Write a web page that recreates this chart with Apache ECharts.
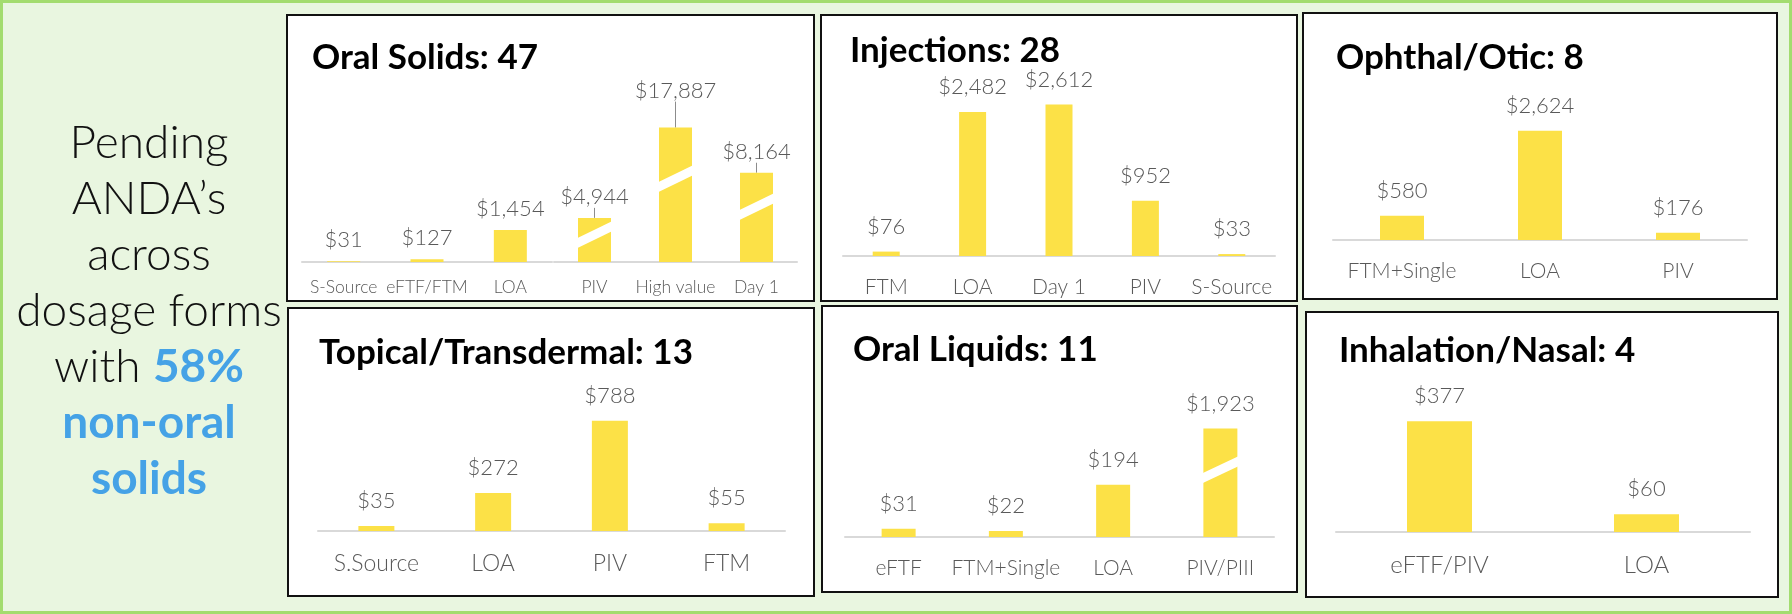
<!DOCTYPE html>
<html>
<head>
<meta charset="utf-8">
<script src="https://cdn.jsdelivr.net/npm/echarts@6.0.0/dist/echarts.min.js"></script>
<style>
html, body { margin: 0; padding: 0; }
#chart { width: 1792px; height: 614px; }
</style>
</head>
<body>
<div id="chart"></div>
<script>
// values in $
var osLowCats = ['S-Source', 'eFTF/FTM', 'LOA'];
var osLowVals = [31, 127, 1454];
var osHighCats = ['PIV', 'High value', 'Day 1'];
var osHighVals = [4944, 17887, 8164];
var injCats = ['FTM', 'LOA', 'Day 1', 'PIV', 'S-Source'];
var injVals = [76, 2482, 2612, 952, 33];
var ophCats = ['FTM+Single', 'LOA', 'PIV'];
var ophVals = [580, 2624, 176];
var topCats = ['S.Source', 'LOA', 'PIV', 'FTM'];
var topVals = [35, 272, 788, 55];
var liqCats = ['eFTF', 'FTM+Single', 'LOA', 'PIV/PIII'];
var liqVals = [31, 22, 194, 1923];
var inhCats = ['eFTF/PIV', 'LOA'];
var inhVals = [377, 60];

var titles = ['Oral Solids: 47', 'Injections: 28', 'Ophthal/Otic: 8',
              'Topical/Transdermal: 13', 'Oral Liquids: 11', 'Inhalation/Nasal: 4'];
// bars drawn with a cut mark (not to scale)
var brokenOS = ['PIV', 'High value', 'Day 1'];
var brokenLiq = ['PIV/PIII'];

var FONT = 'Lato';
var YELLOW = '#fce147';
var GREY = '#595959';

var panels = [
    {cats: osLowCats, vals: osLowVals, grid: [302, 108, 250, 154], max: 7000, bw: 33, fs: 17.5, dist: 10, m: 16},
    {cats: osHighCats, vals: osHighVals, grid: [554, 112, 243, 150], max: 19000, bw: 33, fs: 17.5, dist: 10, m: 16,
        breaks: [{start: 1000, end: 2796, gap: 0}, {start: 9000, end: 15502, gap: 0}], broken: brokenOS, lift: 1},
    {cats: injCats, vals: injVals, grid: [843, 82, 432, 174], max: 3000, bw: 27, fs: 21, dist: 14, m: 21},
    {cats: ophCats, vals: ophVals, grid: [1333, 115, 414, 125], max: 3000, bw: 44, fs: 21, dist: 14, m: 21},
    {cats: topCats, vals: topVals, grid: [318, 391, 467, 140], max: 1000, bw: 36, fs: 23, dist: 14, m: 21},
    {cats: liqCats, vals: liqVals, grid: [845, 381, 429, 156], max: 2100, bw: 34, fs: 21, dist: 14, m: 21,
        breaks: [{start: 250, end: 1770, gap: 0}], broken: brokenLiq},
    {cats: inhCats, vals: inhVals, grid: [1336, 385, 414, 147], max: 500, bw: 65, fs: 24, dist: 14, m: 21}
];

var boxes = [
    [287, 15, 527, 286], [821, 15, 476, 286], [1303, 13, 474, 286],
    [288, 308, 526, 288], [822, 306, 475, 286], [1306, 312, 472, 285]
];
var titlePos = [[312, 40], [850, 33], [1336, 40], [319, 335], [853, 332], [1339, 333]];

function money(v) {
    return '$' + v.toLocaleString('en-US');
}

function stripe(bw) {
    return function (params, api) {
        var x = api.value(0);
        var top = api.coord([x, api.value(1)]);
        var base = api.coord([x, 0]);
        var yc = base[1] + (top[1] - base[1]) * 0.62;
        var xl = top[0] - bw / 2 - 1, xr = top[0] + bw / 2 + 1;
        var rise = 17, t = 10;
        return {
            type: 'polygon',
            shape: {points: [[xl, yc + rise / 2 - t / 2], [xr, yc - rise / 2 - t / 2],
                             [xr, yc - rise / 2 + t / 2], [xl, yc + rise / 2 + t / 2]]},
            style: {fill: '#ffffff'}
        };
    };
}

var grids = [], xAxes = [], yAxes = [], series = [];
panels.forEach(function (p, i) {
    grids.push({left: p.grid[0], top: p.grid[1], width: p.grid[2], height: p.grid[3]});
    xAxes.push({
        type: 'category', gridIndex: i, data: p.cats,
        axisLine: {lineStyle: {color: '#d9d9d9', width: 2}},
        axisTick: {show: false},
        axisLabel: {interval: 0, color: GREY, fontSize: p.fs, fontFamily: FONT, fontWeight: 300, margin: p.m}
    });
    var y = {
        type: 'value', gridIndex: i, min: 0, max: p.max,
        axisLine: {show: false}, axisTick: {show: false},
        axisLabel: {show: false}, splitLine: {show: false}
    };
    if (p.breaks) {
        y.breaks = p.breaks;
        y.breakArea = {show: false};
    }
    yAxes.push(y);
    var maxIdx = p.vals.indexOf(Math.max.apply(null, p.vals));
    series.push({
        type: 'bar', xAxisIndex: i, yAxisIndex: i, data: p.vals, barWidth: p.bw,
        itemStyle: {color: YELLOW},
        label: {
            show: true, position: 'top', distance: p.dist, color: GREY,
            fontSize: 22, fontFamily: FONT, fontWeight: 300,
            formatter: function (d) { return money(d.value); }
        },
        labelLine: {show: !!p.lift, lineStyle: {color: '#8c8c8c', width: 1}},
        labelLayout: p.lift ? function (d) {
            return d.dataIndex === maxIdx ? {dy: -16} : {};
        } : null
    });
    if (p.broken) {
        var pts = [];
        p.broken.forEach(function (c) {
            var k = p.cats.indexOf(c);
            pts.push([k, p.vals[k]]);
        });
        series.push({
            type: 'custom', xAxisIndex: i, yAxisIndex: i, data: pts, z: 5,
            renderItem: stripe(p.bw)
        });
    }
});

var graphics = [{
    type: 'rect', shape: {x: 1.5, y: 1.5, width: 1789, height: 611},
    style: {fill: null, stroke: '#a3dc6f', lineWidth: 3}, z: -10
}];
boxes.forEach(function (b) {
    graphics.push({
        type: 'rect', shape: {x: b[0], y: b[1], width: b[2], height: b[3]},
        style: {fill: '#ffffff', stroke: '#111111', lineWidth: 2}, z: -10
    });
});
graphics.push({
    type: 'text', x: 149, y: 115,
    style: {
        text: 'Pending\nANDA\u2019s\nacross\ndosage forms\nwith {b|58%}\n{b|non-oral}\n{b|solids}',
        align: 'center', verticalAlign: 'top',
        fontFamily: FONT, fontSize: 46, fontWeight: 300, lineHeight: 56, fill: '#111111',
        rich: {b: {fontFamily: FONT, fontSize: 46, fontWeight: 'bold', lineHeight: 56, fill: '#45a2e6', color: '#45a2e6'}}
    }
});

var chart = echarts.init(document.getElementById('chart'));
chart.setOption({
    backgroundColor: '#e9f6e0',
    animation: false,
    title: titles.map(function (t, i) {
        return {
            text: t, left: titlePos[i][0], top: titlePos[i][1], padding: 0,
            textStyle: {fontFamily: FONT, fontSize: 35, fontWeight: 'bold', color: '#000000'}
        };
    }),
    graphic: graphics,
    grid: grids,
    xAxis: xAxes,
    yAxis: yAxes,
    series: series
});
</script>
</body>
</html>
